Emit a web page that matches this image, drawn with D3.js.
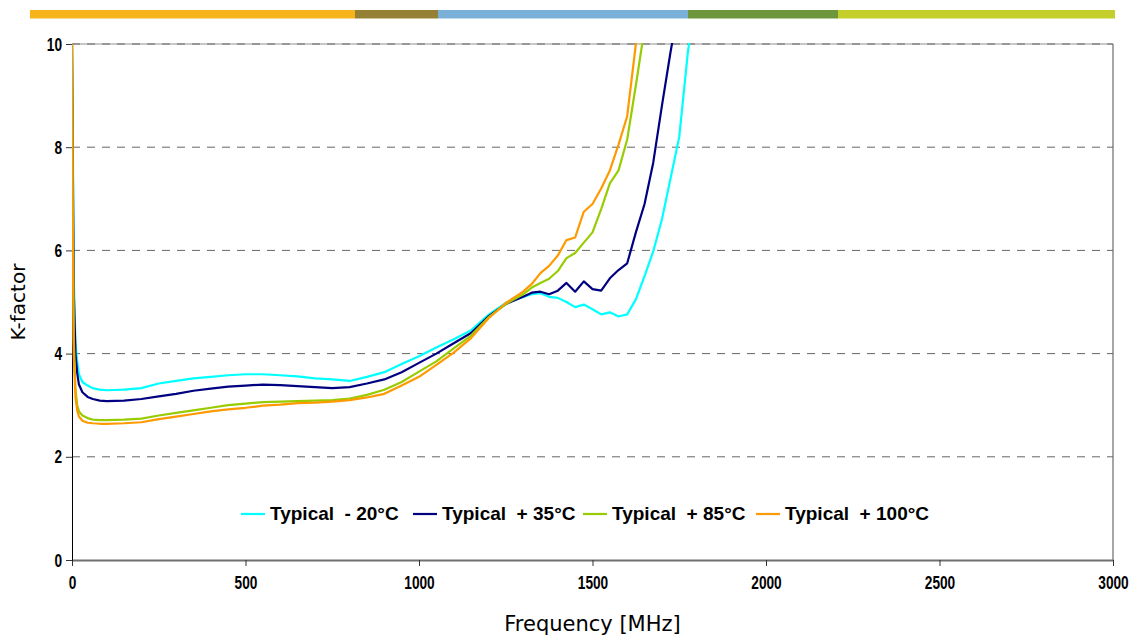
<!DOCTYPE html>
<html>
<head>
<meta charset="utf-8">
<script src="https://cdn.jsdelivr.net/npm/d3@7/dist/d3.min.js"></script>
<style>
  body { margin: 0; background: #fff; }
  .tick text { font-family: "Liberation Sans", Arial, sans-serif; font-weight: bold; font-size: 19px; fill: #000; }
</style>
</head>
<body>
<svg id="chart" width="1137" height="639"></svg>
<script>
// frequency grid [MHz]
const freqs = [0, 2, 5, 10, 15, 20, 30, 45, 60, 80, 100, 150, 200, 250, 300, 350, 400, 450, 500, 550,
  600, 650, 700, 750, 800, 850, 900, 950, 1000, 1050, 1100, 1150, 1200, 1250, 1300, 1325, 1350, 1375,
  1400, 1425, 1450, 1475, 1500, 1525, 1550, 1575, 1600, 1625, 1650, 1675, 1700, 1725, 1750, 1775, 1800]

// K-factor readings per temperature
const kMinus20 = [10, 8.5, 5.5, 4.2, 3.85, 3.6, 3.45, 3.38, 3.33, 3.3, 3.29, 3.3, 3.33, 3.42, 3.47, 3.52, 3.55, 3.58, 3.6, 3.6,
  3.58, 3.56, 3.52, 3.5, 3.47, 3.55, 3.64, 3.8, 3.95, 4.12, 4.28, 4.45, 4.75, 4.98, 5.1, 5.15, 5.17, 5.1,
  5.08, 5.0, 4.9, 4.95, 4.86, 4.76, 4.8, 4.72, 4.76, 5.05, 5.5, 5.98, 6.6, 7.4, 8.2, 9.85, 11]
const kPlus35 = [10, 8, 5.2, 4.0, 3.62, 3.4, 3.25, 3.16, 3.12, 3.09, 3.08, 3.09, 3.12, 3.17, 3.22, 3.28, 3.32, 3.36, 3.38, 3.4,
  3.39, 3.37, 3.35, 3.33, 3.35, 3.42, 3.5, 3.64, 3.82, 4.0, 4.2, 4.4, 4.72, 4.96, 5.1, 5.18, 5.2, 5.15,
  5.22, 5.37, 5.2, 5.4, 5.25, 5.22, 5.46, 5.62, 5.75, 6.35, 6.9, 7.7, 8.8, 9.85, 10.8, 11.5, 12]
const kPlus85 = [10, 7, 4.3, 3.3, 3.0, 2.88, 2.8, 2.75, 2.72, 2.71, 2.71, 2.72, 2.74, 2.8, 2.85, 2.9, 2.95, 3.0, 3.03, 3.06,
  3.07, 3.08, 3.09, 3.1, 3.13, 3.2, 3.3, 3.45, 3.65, 3.85, 4.1, 4.35, 4.7, 4.96, 5.15, 5.28, 5.37, 5.45,
  5.6, 5.85, 5.95, 6.15, 6.35, 6.8, 7.3, 7.55, 8.15, 9.2, 10.3, 11, 11.5, 12, 12.5, 13, 13.5]
const kPlus100 = [10, 6.5, 4.0, 3.15, 2.9, 2.78, 2.7, 2.66, 2.65, 2.64, 2.64, 2.65, 2.67, 2.73, 2.78, 2.83, 2.88, 2.92, 2.95, 2.99,
  3.01, 3.04, 3.05, 3.07, 3.1, 3.15, 3.22, 3.38, 3.55, 3.78, 4.02, 4.3, 4.68, 4.98, 5.2, 5.35, 5.56, 5.7,
  5.9, 6.2, 6.25, 6.75, 6.9, 7.2, 7.55, 8.05, 8.6, 10.0, 11, 11.5, 12, 12.5, 13, 13.5, 14]

const seriesNames = ["Typical  - 20°C", "Typical  + 35°C", "Typical  + 85°C", "Typical  + 100°C"]
const seriesColors = ["#00FFFF", "#000080", "#99CC00", "#FF9900"]
const xTicks = [0, 500, 1000, 1500, 2000, 2500, 3000]
const yTicks = [0, 2, 4, 6, 8, 10]

// top banner colours
const bandColors = ["#F7B31B", "#958135", "#7BB1D9", "#6E963C", "#C5CF2C"]
const bandEnds = [355, 438, 688, 838, 1115]

let svg = d3.select("#chart")

// banner
let bandStart = 30
bandColors.forEach((c, i) => {
    svg.append("rect")
        .attr("x", bandStart)
        .attr("y", 10)
        .attr("width", bandEnds[i] - bandStart)
        .attr("height", 8.5)
        .attr("fill", c)
    bandStart = bandEnds[i]
})

let pLeft = 72, pRight = 1113, pTop = 44, pBottom = 560
let x = d3.scaleLinear().domain([0, 3000]).range([pLeft, pRight])
let y = d3.scaleLinear().domain([0, 10]).range([pBottom, pTop])
let squeeze = 0.72 // narrow look of the tick labels

// plot frame
svg.append("line").attr("x1", pLeft).attr("x2", pRight).attr("y1", pTop).attr("y2", pTop)
    .attr("stroke", "#c8c8c8").attr("stroke-width", 2)
svg.append("line").attr("x1", pRight).attr("x2", pRight).attr("y1", pTop).attr("y2", pBottom)
    .attr("stroke", "#888").attr("stroke-width", 1.5)

// dashed grid
svg.append("g")
    .selectAll("line")
    .data(yTicks.filter(d => d > 0))
    .enter()
    .append("line")
    .attr("x1", pLeft)
    .attr("x2", pRight)
    .attr("y1", d => y(d))
    .attr("y2", d => y(d))
    .attr("stroke", "#666")
    .attr("stroke-width", 1)
    .attr("stroke-dasharray", "8,7")

// axes
let xAxis = svg.append("g")
    .attr("transform", `translate(0,${pBottom})`)
    .call(d3.axisBottom(x).tickValues(xTicks).tickFormat(d3.format("d")).tickSize(6).tickPadding(10).tickSizeOuter(0))
xAxis.select(".domain").attr("stroke", "#707070").attr("stroke-width", 2)
xAxis.selectAll(".tick line").attr("stroke", "#333")
xAxis.selectAll(".tick text").attr("transform", `scale(${squeeze},1)`)

let yAxis = svg.append("g")
    .attr("transform", `translate(${pLeft},0)`)
    .call(d3.axisLeft(y).tickValues(yTicks).tickSize(6).tickPadding(4).tickSizeOuter(0))
yAxis.select(".domain").attr("stroke", "#000").attr("stroke-width", 1)
yAxis.selectAll(".tick line").attr("stroke", "#333")
yAxis.selectAll(".tick text")
    .attr("x", -10 / squeeze)
    .attr("transform", `scale(${squeeze},1)`)

// axis titles
svg.append("text")
    .attr("x", (pLeft + pRight) / 2)
    .attr("y", 631)
    .attr("text-anchor", "middle")
    .style("font-family", "'DejaVu Sans', Verdana, sans-serif")
    .style("font-size", "21px")
    .text("Frequency [MHz]")
svg.append("text")
    .attr("transform", `translate(25,${(pTop + pBottom) / 2}) rotate(-90)`)
    .attr("text-anchor", "middle")
    .style("font-family", "'DejaVu Sans', Verdana, sans-serif")
    .style("font-size", "20px")
    .text("K-factor")

// curves
svg.append("clipPath").attr("id", "plot-clip")
    .append("rect").attr("x", pLeft).attr("y", pTop - 1).attr("width", pRight - pLeft).attr("height", pBottom - pTop + 1)

let allSeries = [kMinus20, kPlus35, kPlus85, kPlus100]
let line = d3.line()
    .x((d, i) => x(freqs[i]))
    .y(d => y(d))

svg.append("g")
    .attr("clip-path", "url(#plot-clip)")
    .selectAll("path")
    .data(allSeries)
    .enter()
    .append("path")
    .attr("d", d => line(d))
    .attr("fill", "none")
    .attr("stroke", (d, i) => seriesColors[i])
    .attr("stroke-width", 2.2)
    .attr("stroke-linejoin", "round")

// legend
let legendX = [241, 413, 583, 756]
let legend = svg.append("g")
seriesNames.forEach((name, i) => {
    legend.append("line")
        .attr("x1", legendX[i])
        .attr("x2", legendX[i] + 24)
        .attr("y1", 514)
        .attr("y2", 514)
        .attr("stroke", seriesColors[i])
        .attr("stroke-width", 2.2)
    legend.append("text")
        .attr("x", legendX[i] + 29)
        .attr("y", 520)
        .attr("xml:space", "preserve")
        .style("white-space", "pre")
        .style("font-family", "'Liberation Sans', Arial, sans-serif")
        .style("font-weight", "bold")
        .style("font-size", "19px")
        .text(name)
})
</script>
</body>
</html>
